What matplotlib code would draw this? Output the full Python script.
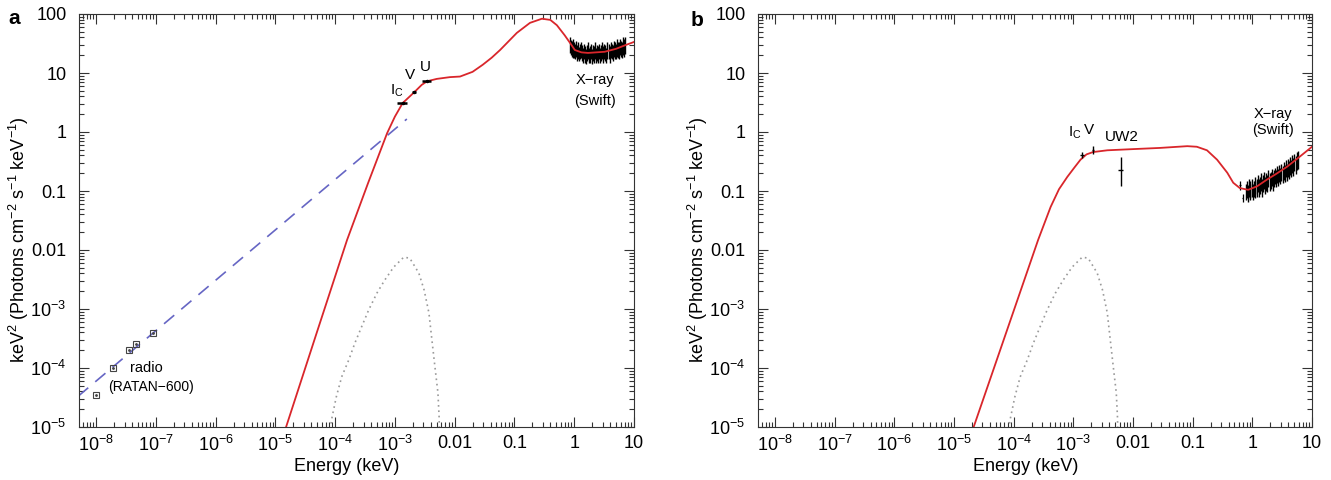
import numpy as np
import matplotlib
matplotlib.use("Agg")
import matplotlib.pyplot as plt
from matplotlib.ticker import FixedLocator, LogLocator, NullFormatter

plt.rcParams['font.family'] = ['Liberation Sans', 'DejaVu Sans']
plt.rcParams['mathtext.fontset'] = 'custom'
plt.rcParams['mathtext.rm'] = 'Liberation Sans'
plt.rcParams['mathtext.it'] = 'Liberation Sans:italic'
plt.rcParams['mathtext.bf'] = 'Liberation Sans:bold'

# ---------------- data (log10 energy keV, log10 keV^2 flux) ----------------
# Panel a: model curve (red)
model_a_logE = [-4.95, -4.82, -4.30, -3.80, -3.45, -3.13, -3.00, -2.87, -2.67, -2.55, -2.46, -2.30,
                -2.08, -1.91, -1.70, -1.53, -1.38, -1.24, -0.96, -0.74, -0.54, -0.40,
                -0.29, -0.16, -0.07, 0.01, 0.12, 0.23, 0.51, 0.70, 0.85, 1.01]
model_a_logF = [-5.40, -5.00, -3.38, -1.83, -0.87, -0.02, 0.26, 0.49, 0.68, 0.80, 0.86, 0.90,
                0.93, 0.94, 1.02, 1.14, 1.26, 1.39, 1.68, 1.85, 1.92, 1.90,
                1.81, 1.64, 1.51, 1.39, 1.35, 1.34, 1.36, 1.41, 1.47, 1.53]

# Panel a: power law (blue dashed)
plaw_logE = [-8.30, -2.80]
plaw_logF = [-4.48, 0.22]

# Blackbody-like dotted component (same in both panels)
dot_logE = [-4.12, -4.06, -3.98, -3.89, -3.77, -3.67, -3.56, -3.44, -3.30, -3.17, -3.02,
            -2.85, -2.75, -2.60, -2.51, -2.43, -2.38, -2.33, -2.28, -2.26, -2.25]
dot_logF = [-5.30, -4.88, -4.49, -4.15, -3.86, -3.58, -3.31, -3.02, -2.73, -2.51, -2.29,
            -2.12, -2.14, -2.39, -2.68, -3.07, -3.53, -3.98, -4.42, -4.83, -5.30]

# Panel a: radio points (RATAN-600)
radio_E = [1.0e-8, 1.9e-8, 3.5e-8, 4.7e-8, 8.9e-8]
radio_F = [3.5e-5, 1.0e-4, 2.0e-4, 2.6e-4, 3.9e-4]

# Panel a: optical points Ic, V, U
opt_a_E = [1.35e-3, 2.1e-3, 3.45e-3]
opt_a_F = [3.1, 4.8, 7.3]
opt_a_xerr = [0.25e-3, 0.15e-3, 0.6e-3]

# Panel a: Swift X-ray spectrum
xa_E = [0.85, 0.88, 0.91, 0.94, 0.97, 1.00, 1.04, 1.08, 1.12, 1.16, 1.20, 1.25, 1.30, 1.35,
        1.40, 1.46, 1.52, 1.58, 1.64, 1.71, 1.78, 1.85, 1.92, 2.00, 2.08, 2.16, 2.25, 2.34,
        2.43, 2.53, 2.63, 2.74, 2.85, 2.96, 3.08, 3.20, 3.33, 3.46, 3.60, 3.75, 3.90, 4.06,
        4.22, 4.39, 4.57, 4.75, 4.94, 5.14, 5.35, 5.56, 5.78, 6.01, 6.25, 6.50, 6.76, 7.03]
xa_F = [31, 28, 27, 29, 25, 26, 24, 27, 23, 25, 22, 24, 26, 23,
        21, 24, 22, 20, 23, 25, 21, 22, 24, 20, 23, 22, 25, 21,
        23, 22, 24, 21, 23, 25, 22, 24, 23, 21, 25, 24, 22, 26,
        24, 23, 27, 25, 24, 28, 26, 25, 29, 27, 26, 30, 28, 31]
xa_err = [9, 8, 8, 9, 7, 8, 7, 8, 7, 8, 6, 7, 8, 7,
          6, 7, 7, 6, 7, 8, 6, 7, 7, 6, 7, 7, 8, 6,
          7, 7, 7, 6, 7, 8, 7, 7, 7, 6, 8, 7, 7, 8,
          7, 7, 8, 8, 7, 9, 8, 8, 9, 8, 8, 10, 9, 10]

# Panel b: model curve (red)
model_b_logE = [-4.85, -4.67, -3.59, -3.38, -3.24, -3.10, -2.98, -2.88, -2.78, -2.67, -2.43, -2.00,
                -1.55, -1.09, -0.93, -0.76, -0.59, -0.42, -0.32, -0.21, -0.07, 0.08,
                0.24, 0.40, 0.58, 0.78, 1.00]
model_b_logF = [-5.55, -5.00, -1.83, -1.27, -0.97, -0.76, -0.60, -0.47, -0.38, -0.34, -0.31, -0.29,
                -0.27, -0.24, -0.25, -0.31, -0.47, -0.69, -0.86, -0.95, -0.98, -0.92,
                -0.81, -0.71, -0.59, -0.43, -0.25]

# Panel b: optical/UV points Ic, V, UW2
opt_b_E = [1.41e-3, 2.14e-3, 6.3e-3]
opt_b_F = [0.41, 0.49, 0.23]
opt_b_yerr_lo = [0.05, 0.06, 0.11]
opt_b_yerr_hi = [0.05, 0.08, 0.15]
opt_b_xerr = [0.12e-3, 0.1e-3, 0.6e-3]

# Panel b: Swift X-ray spectrum
xb_E = [0.78, 0.81, 0.84, 0.87, 0.90, 0.93, 0.97, 1.01, 1.05, 1.09, 1.13, 1.18, 1.23, 1.28,
        1.33, 1.39, 1.45, 1.51, 1.57, 1.64, 1.71, 1.78, 1.86, 1.94, 2.02, 2.11, 2.20, 2.29,
        2.39, 2.49, 2.60, 2.71, 2.83, 2.95, 3.08, 3.21, 3.35, 3.49, 3.64, 3.80, 3.96, 4.13,
        4.31, 4.49, 4.68, 4.88, 5.09, 5.31, 5.54, 5.78]
xb_F = [0.10, 0.11, 0.095, 0.12, 0.10, 0.11, 0.12, 0.10, 0.115, 0.13, 0.11, 0.12, 0.14, 0.12,
        0.13, 0.15, 0.12, 0.14, 0.16, 0.13, 0.15, 0.14, 0.17, 0.15, 0.16, 0.18, 0.15, 0.17,
        0.19, 0.17, 0.20, 0.18, 0.21, 0.19, 0.22, 0.20, 0.23, 0.21, 0.25, 0.22, 0.26, 0.24,
        0.28, 0.25, 0.30, 0.27, 0.32, 0.29, 0.34, 0.36]
xb_err = [0.03, 0.035, 0.03, 0.04, 0.03, 0.035, 0.04, 0.03, 0.035, 0.04, 0.035, 0.04, 0.045, 0.04,
          0.04, 0.05, 0.04, 0.045, 0.05, 0.04, 0.05, 0.045, 0.055, 0.05, 0.05, 0.06, 0.05, 0.055,
          0.06, 0.055, 0.065, 0.06, 0.07, 0.06, 0.07, 0.065, 0.075, 0.07, 0.08, 0.07, 0.085, 0.08,
          0.09, 0.08, 0.10, 0.09, 0.10, 0.095, 0.11, 0.12]
xb_extra_E = [0.62, 0.69]
xb_extra_F = [0.126, 0.076]
xb_extra_err = [0.02, 0.012]

x_ticks = [1e-8, 1e-7, 1e-6, 1e-5, 1e-4, 1e-3, 1e-2, 1e-1, 1, 10]
x_ticklabels = [r'$\mathregular{10^{-8}}$', r'$\mathregular{10^{-7}}$', r'$\mathregular{10^{-6}}$',
                r'$\mathregular{10^{-5}}$', r'$\mathregular{10^{-4}}$', r'$\mathregular{10^{-3}}$',
                '0.01', '0.1', '1', '10']
y_ticks = [1e-5, 1e-4, 1e-3, 1e-2, 1e-1, 1, 10, 100]
y_ticklabels = [r'$\mathregular{10^{-5}}$', r'$\mathregular{10^{-4}}$', r'$\mathregular{10^{-3}}$',
                '0.01', '0.1', '1', '10', '100']

RED = '#d9262b'
BLUE = '#6666c4'
GRAY = '#9a9a9a'

fig = plt.figure(figsize=(13.31, 4.8), dpi=100)
ax_a = fig.add_axes([79 / 1331, 53 / 480, 555 / 1331, 413 / 480])
ax_b = fig.add_axes([758 / 1331, 53 / 480, 554 / 1331, 413 / 480])


def style(ax):
    ax.set_xscale('log')
    ax.set_yscale('log')
    ax.set_xlim(10 ** -8.284, 10 ** 1.0)
    ax.set_ylim(1e-5, 100)
    ax.xaxis.set_major_locator(FixedLocator(x_ticks))
    ax.yaxis.set_major_locator(FixedLocator(y_ticks))
    ax.xaxis.set_minor_locator(LogLocator(base=10, subs=np.arange(2, 10), numticks=30))
    ax.yaxis.set_minor_locator(LogLocator(base=10, subs=np.arange(2, 10), numticks=30))
    ax.xaxis.set_minor_formatter(NullFormatter())
    ax.yaxis.set_minor_formatter(NullFormatter())
    ax.set_xticklabels(x_ticklabels)
    ax.set_yticklabels(y_ticklabels)
    ax.tick_params(which='both', direction='in', top=True, right=True, color='#333333', width=0.8)
    ax.tick_params(which='major', length=7, labelsize=13)
    ax.tick_params(which='minor', length=3.5)
    ax.tick_params(axis='y', which='major', pad=9)
    ax.tick_params(axis='x', which='major', pad=6)
    for s in ax.spines.values():
        s.set_linewidth(0.8)
        s.set_color('#333333')
    ax.set_xlabel('Energy (keV)', fontsize=13)
    ax.set_ylabel(r'keV$^\mathregular{2}$ (Photons cm$^\mathregular{-2}$ s$^\mathregular{-1}$ keV$^\mathregular{-1}$)',
                  fontsize=13)
    ax.xaxis.set_label_coords(0.483, -0.074)
    ax.yaxis.set_label_coords(-0.086, 0.453)


style(ax_a)
style(ax_b)

# ---------------- panel a ----------------
ax_a.plot(10 ** np.array(dot_logE), 10 ** np.array(dot_logF), color=GRAY, lw=1.2,
          linestyle=(0, (1, 2.2)))
ax_a.plot(10 ** np.array(plaw_logE), 10 ** np.array(plaw_logF), color=BLUE, lw=1.2,
          linestyle=(0, (8, 5.5)))
ax_a.errorbar(xa_E, xa_F, yerr=xa_err, fmt='none', ecolor='black', elinewidth=1.0, capsize=0)
ax_a.plot(10 ** np.array(model_a_logE), 10 ** np.array(model_a_logF), color=RED, lw=1.3)
ax_a.plot(radio_E, radio_F, linestyle='none', marker='s', ms=5, mfc='none', mec='#444444', mew=0.8)
ax_a.plot(radio_E, radio_F, linestyle='none', marker='.', ms=2, color='#444444')
ax_a.errorbar(opt_a_E, opt_a_F, xerr=opt_a_xerr, fmt='none', ecolor='black', elinewidth=1.8, capsize=0)
ax_a.plot(opt_a_E, opt_a_F, linestyle='none', marker='.', ms=3, color='black')

ax_a.text(1.07e-3, 5.0, r'I$_\mathregular{C}$', fontsize=11, ha='center', va='center')
ax_a.text(1.78e-3, 9.3, 'V', fontsize=11, ha='center', va='center')
ax_a.text(3.2e-3, 12.6, 'U', fontsize=11, ha='center', va='center')
ax_a.text(2.2, 7.6, 'X\u2212ray', fontsize=10.5, ha='center', va='center')
ax_a.text(2.2, 3.4, '(Swift)', fontsize=10.5, ha='center', va='center')
ax_a.text(7.1e-8, 1.0e-4, 'radio', fontsize=10.5, ha='center', va='center')
ax_a.text(8.3e-8, 4.8e-5, '(RATAN\u2212600)', fontsize=10, ha='center', va='center')

# ---------------- panel b ----------------
ax_b.plot(10 ** np.array(dot_logE), 10 ** np.array(dot_logF), color=GRAY, lw=1.2,
          linestyle=(0, (1, 2.2)))
ax_b.errorbar(xb_E, xb_F, yerr=xb_err, fmt='none', ecolor='black', elinewidth=1.0, capsize=0)
ax_b.errorbar(xb_extra_E, xb_extra_F, yerr=xb_extra_err, xerr=[0.02, 0.02], fmt='none',
              ecolor='black', elinewidth=0.9, capsize=0)
ax_b.plot(10 ** np.array(model_b_logE), 10 ** np.array(model_b_logF), color=RED, lw=1.3)
ax_b.errorbar(opt_b_E, opt_b_F, yerr=[opt_b_yerr_lo, opt_b_yerr_hi], xerr=opt_b_xerr, fmt='none',
              ecolor='black', elinewidth=1.0, capsize=0)

ax_b.text(1.05e-3, 0.96, r'I$_\mathregular{C}$', fontsize=11, ha='center', va='center')
ax_b.text(1.86e-3, 1.07, 'V', fontsize=11, ha='center', va='center')
ax_b.text(6.5e-3, 0.83, 'UW2', fontsize=11, ha='center', va='center')
ax_b.text(2.2, 2.0, 'X\u2212ray', fontsize=10.5, ha='center', va='center')
ax_b.text(2.2, 1.1, '(Swift)', fontsize=10.5, ha='center', va='center')

fig.text(14 / 1331, 1 - 19 / 480, 'a', fontsize=15, fontweight='bold', ha='center', va='center')
fig.text(697 / 1331, 1 - 20 / 480, 'b', fontsize=15, fontweight='bold', ha='center', va='center')

fig.savefig('out.png', dpi=100)
